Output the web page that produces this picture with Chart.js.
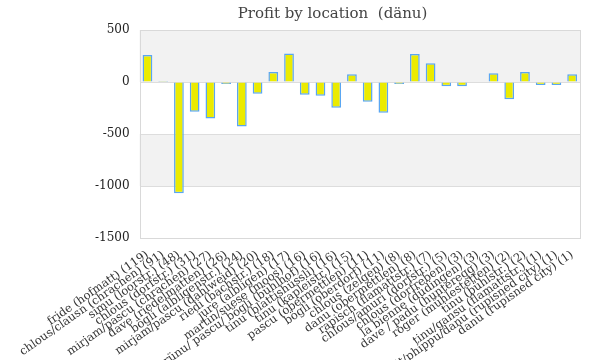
<!DOCTYPE html>
<html><head><meta charset="utf-8">
<script src="https://cdn.jsdelivr.net/npm/chart.js@4"></script>
<style>html,body{margin:0;padding:0;background:#fff}#wrap{width:600px;height:360px}</style>
</head><body><div id="wrap"><canvas id="c" width="600" height="360"></canvas></div>
<script>
const titleText = "Profit by location  (dänu)";
const categories = [
  "fride (hofmatt) (119)",
  "chlous/clausn (chrachen) (91)",
  "simu (loorstr.) (48)",
  "chlous (dorfstr.) (31)",
  "mirjam/pascu (chrachen) (27)",
  "dave (riedelmatten) (26)",
  "bögli (albligenstr.) (24)",
  "mirjam/pascu (dahlweid) (20)",
  "riedi (bachstr.) (18)",
  "jure (albligen) (17)",
  "martin/suese (moos) (16)",
  "brünu/ pascu/ bögli (bühlhof) (16)",
  "tinu (blattishüssli) (16)",
  "tinu (kapleistr.) (15)",
  "pascu (obermettlen) (11)",
  "bögli (oberdorf) (11)",
  "chlous (zelgen) (8)",
  "danu (obermettlen) (8)",
  "rapisch (flamattstr.) (7)",
  "chlous/amuri (dorfstr.) (5)",
  "chlous (dorfreben) (3)",
  "la bienne (düdingen) (3)",
  "dave / padu (hunteregg) (3)",
  "roger (mühlestetten) (2)",
  "tinu (bühlstr.) (2)",
  "tinu/gansu (flamattstr.) (1)",
  "brit/phippu/danu (rupisned city) (1)",
  "danu (rupisned city) (1)"
];
const profit = [260, 10, -1070, -285, -352, -19, -428, -114, 95, 275, -123, -133, -247, 75, -190, -295, -20, 270, 180, -40, -40, -5, 85, -165, 95, -30, -30, 75];
const yTicks = [500, 0, -500, -1000, -1500];

const bandPlugin = {
  id: 'bands',
  beforeDraw(chart) {
    const {ctx, chartArea: a, scales: {y}} = chart;
    const vals = y.ticks.map(t => t.value).sort((p, q) => q - p);
    ctx.save();
    ctx.fillStyle = '#f2f2f2';
    for (let i = 0; i < vals.length - 1; i++) {
      if (i % 2 === 0) {
        const top = y.getPixelForValue(vals[i]);
        const bot = y.getPixelForValue(vals[i + 1]);
        ctx.fillRect(a.left, top, a.right - a.left, bot - top);
      }
    }
    ctx.restore();
  },
  afterDraw(chart) {
    const {ctx, chartArea: a} = chart;
    ctx.save();
    ctx.strokeStyle = '#d9d9d9';
    ctx.lineWidth = 1;
    ctx.strokeRect(Math.round(a.left) + 0.5, Math.round(a.top) + 0.5, Math.round(a.right - a.left), Math.round(a.bottom - a.top));
    ctx.restore();
  }
};

const serif = "Georgia, 'DejaVu Serif', serif";
new Chart(document.getElementById('c'), {
  type: 'bar',
  data: {
    labels: categories,
    datasets: [{
      data: profit,
      backgroundColor: '#ebeb00',
      borderColor: '#5aa6f2',
      borderWidth: 1.5,
      barPercentage: 0.62,
      categoryPercentage: 1.0
    }]
  },
  options: {
    responsive: false,
    animation: false,
    layout: {padding: {top: 0, right: 20, bottom: 0, left: 85}},
    plugins: {
      legend: {display: false},
      tooltip: {enabled: false},
      title: {display: true, text: titleText, color: '#444', font: {family: serif, size: 15, weight: 'normal'}, padding: {top: 5, bottom: 7}}
    },
    scales: {
      y: {
        min: -1500, max: 500,
        afterBuildTicks(s) { s.ticks = yTicks.map(v => ({value: v})); },
        ticks: {color: '#222', font: {family: serif, size: 12}, padding: 10, callback: v => String(v)},
        grid: {color: '#dddddd', drawTicks: false},
        border: {display: false}
      },
      x: {
        afterFit(s) { s.height = 122; },
        ticks: {color: '#333', font: {family: serif, size: 11.5}, minRotation: 35, maxRotation: 35, autoSkip: false, padding: 2},
        grid: {display: false},
        border: {display: false}
      }
    }
  },
  plugins: [bandPlugin]
});
</script>
</body></html>
